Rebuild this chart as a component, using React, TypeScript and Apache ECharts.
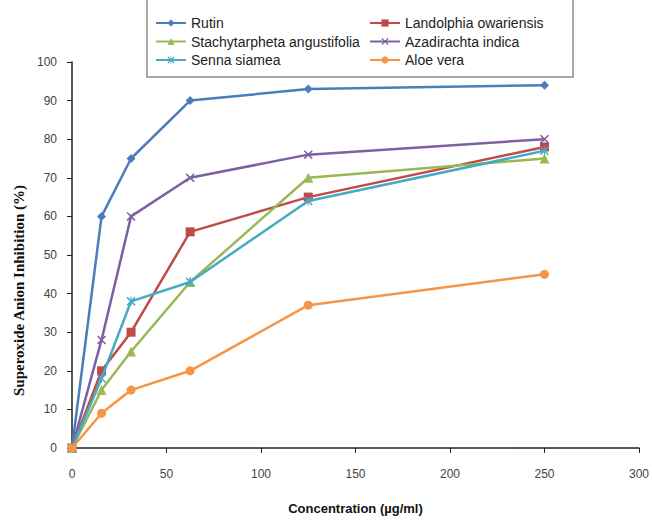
import React, { useEffect, useRef } from "react";
import * as echarts from "echarts";

const concentrations = [0, 15.625, 31.25, 62.5, 125, 250];
const seriesNames = [
  "Rutin",
  "Landolphia owariensis",
  "Stachytarpheta angustifolia",
  "Azadirachta indica",
  "Senna siamea",
  "Aloe vera",
];
const rutin = [0, 60, 75, 90, 93, 94];
const landolphia = [0, 20, 30, 56, 65, 78];
const stachytarpheta = [0, 15, 25, 43, 70, 75];
const azadirachta = [0, 28, 60, 70, 76, 80];
const senna = [0, 18, 38, 43, 64, 77];
const aloe = [0, 9, 15, 20, 37, 45];
const yTicks = { min: 0, max: 100, interval: 10 };
const xTicks = { min: 0, max: 300, interval: 50 };
const xTitle = "Concentration (µg/ml)";
const yTitle = "Superoxide Anion Inhibition (%)";

const colors = ["#4A7EBB", "#BE4B48", "#98B954", "#7D60A0", "#46AAC5", "#F69546"];
const X_PATH =
  "path://M0,1.2 L1.2,0 L5,3.8 L8.8,0 L10,1.2 L6.2,5 L10,8.8 L8.8,10 L5,6.2 L1.2,10 L0,8.8 L3.8,5 Z";
const STAR_PATH =
  "path://M0,1.2 L1.2,0 L5,3.8 L8.8,0 L10,1.2 L6.2,5 L10,8.8 L8.8,10 L5,6.2 L1.2,10 L0,8.8 L3.8,5 Z M4.4,0 L5.6,0 L5.6,10 L4.4,10 Z";
const symbols = ["diamond", "rect", "triangle", X_PATH, STAR_PATH, "circle"];
const symbolSizes = [9, 9, 10, 9, 9, 9];
const allData = [rutin, landolphia, stachytarpheta, azadirachta, senna, aloe];

export default function App() {
  const ref = useRef<HTMLDivElement>(null);
  useEffect(() => {
    if (!ref.current) return;
    document.body.style.margin = "0";
    document.body.style.overflow = "hidden";
    const chart = echarts.init(ref.current, null, { renderer: "svg" });
    const labelFont = "'Liberation Sans', Arial, sans-serif";
    const series = allData.map((vals, i) => ({
      name: seriesNames[i],
      type: "line",
      data: vals.map((v, j) => [concentrations[j], v]),
      symbol: symbols[i],
      symbolSize: symbolSizes[i],
      showAllSymbol: true,
      lineStyle: { color: colors[i], width: 2.5 },
      itemStyle: { color: colors[i] },
      z: 2 + i,
    }));
    const legendBase = {
      orient: "vertical",
      top: 16,
      padding: 0,
      itemWidth: 30,
      itemHeight: 9,
      itemGap: 4.5,
      textStyle: { fontFamily: labelFont, fontSize: 14, color: "#222" },
      z: 20,
    };
    chart.setOption({
      animation: false,
      backgroundColor: "#ffffff",
      color: colors,
      grid: { left: 72, right: 12, top: 62, bottom: 70, containLabel: false },
      graphic: [
        {
          type: "rect",
          shape: { x: 147, y: -5, width: 426, height: 82 },
          style: { fill: "#ffffff", stroke: "#8c8c8c", lineWidth: 1.5 },
          z: 10,
        },
        {
          type: "text",
          x: 19,
          y: 396,
          rotation: Math.PI / 2,
          style: {
            text: yTitle,
            fill: "#111",
            font: "bold 15px 'Liberation Serif', 'Times New Roman', serif",
            align: "left",
            verticalAlign: "middle",
          },
          z: 10,
        },
      ],
      legend: [
        { ...legendBase, data: [seriesNames[0], seriesNames[2], seriesNames[4]], left: 155 },
        { ...legendBase, data: [seriesNames[1], seriesNames[3], seriesNames[5]], left: 369 },
      ],
      xAxis: {
        type: "value",
        min: xTicks.min,
        max: xTicks.max,
        interval: xTicks.interval,
        name: xTitle,
        nameLocation: "middle",
        nameGap: 54,
        nameTextStyle: {
          fontFamily: labelFont,
          fontWeight: "bold",
          fontSize: 13,
          color: "#111",
        },
        axisLine: { show: true, lineStyle: { color: "#222", width: 1.5 } },
        axisTick: { show: true, inside: false, length: 5, lineStyle: { color: "#222" } },
        axisLabel: { margin: 20, fontFamily: labelFont, fontSize: 12, color: "#444" },
        splitLine: { show: false },
      },
      yAxis: {
        type: "value",
        min: yTicks.min,
        max: yTicks.max,
        interval: yTicks.interval,
        axisLine: { show: true, lineStyle: { color: "#222", width: 1.5 } },
        axisTick: { show: true, inside: false, length: 5, lineStyle: { color: "#222" } },
        axisLabel: { margin: 15, fontFamily: labelFont, fontSize: 12, color: "#444" },
        splitLine: { show: false },
      },
      series,
    });
    return () => chart.dispose();
  }, []);
  return (
    <div
      ref={ref}
      style={{ width: 652, height: 520, position: "fixed", left: 0, top: 0 }}
    />
  );
}
